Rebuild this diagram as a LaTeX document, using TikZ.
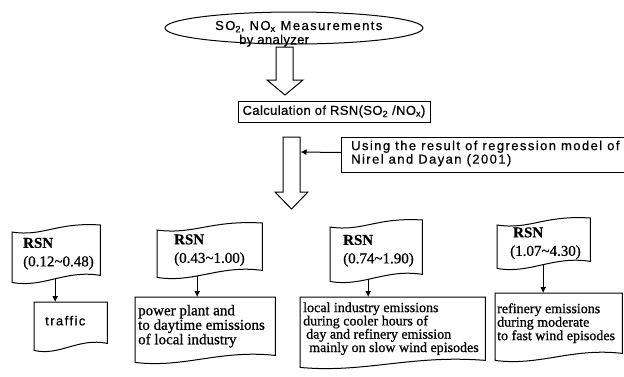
\documentclass[tikz,border=0pt]{standalone}
\usepackage{fontspec}
\setmainfont{Liberation Serif}[RawFeature={embolden=0.8}]
\newfontfamily\sansA{Liberation Sans}[LetterSpace=11,RawFeature={embolden=0.6}]
\newfontfamily\sansB{Liberation Sans}[LetterSpace=3,RawFeature={embolden=0.6}]
\usetikzlibrary{shapes.geometric,arrows.meta,calc}
\tikzset{
  ln/.style={line width=1pt},
  arr/.style={line width=1pt,-{Latex[length=6pt,width=6pt]}},
  boxarea/.style={anchor=north west,inner sep=0pt},
  rsntext/.style={anchor=west,align=left,inner sep=0pt,font=\fontsize{15}{18.5}\selectfont},
  doctext/.style={anchor=west,align=left,inner sep=0pt,font=\fontsize{14}{13.5}\selectfont},
  sanstext/.style={inner sep=0pt,font=\sansA\fontsize{13}{13.5}\selectfont},
}
\newcommand\tapebox[1]{%
  \draw[ln] let \p1=(#1.south west), \p2=(#1.north east), \n1={\x2-\x1} in
  (\x1,\y2-7pt) .. controls (\x1+0.35*\n1,\y2-12pt) and (\x1+0.5*\n1,\y2+3pt) .. (\x2,\y2)
  -- (\x2,\y1+7pt) .. controls (\x1+0.6*\n1,\y1+13pt) and (\x1+0.35*\n1,\y1-6pt) .. (\x1,\y1) -- cycle;}
\newcommand\docbox[1]{%
  \draw[ln] let \p1=(#1.south west), \p2=(#1.north east), \n1={\x2-\x1} in
  (\x1,\y2) -- (\x2,\y2) -- (\x2,\y1) .. controls (\x1+0.6*\n1,\y1+6pt) and (\x1+0.35*\n1,\y1-13pt) .. (\x1,\y1-7pt) -- cycle;}
\begin{document}
\begin{tikzpicture}[x=1pt,y=-1pt]
\useasboundingbox (0,0) rectangle (624,376);
\fill[white] (0,0) rectangle (624,376);
% top ellipse
\node[ellipse,draw,ln,minimum width=258pt,minimum height=32pt,inner sep=0pt] (ell) at (294,28) {};
% block arrows
\draw[ln] (276,47) -- (293,47) -- (293,80) -- (303,80) -- (285,95) -- (267,80) -- (276,80) -- cycle;
\draw[ln] (283,137) -- (300,137) -- (300,192) -- (308,192) -- (291.5,209) -- (275,192) -- (283,192) -- cycle;
\coordinate (sh) at (300.5,152);
% boxes
\node[boxarea,draw,ln,minimum width=192pt,minimum height=21pt] (calc) at (237.5,100.5) {};
\node[boxarea,draw,ln,minimum width=300pt,minimum height=35pt] (use) at (341,137) {};
\draw[arr] ($(use.west)+(0,-2.5)$) -- (sh);
\node[boxarea,minimum width=88pt,minimum height=57pt] (r1) at (12,225) {};
\tapebox{r1}
\node[boxarea,minimum width=73pt,minimum height=41pt] (t1) at (34,302) {};
\docbox{t1}
\coordinate (a1) at ($(r1.south)+(-1,-3.5)$);
\draw[arr] (a1) -- (a1 |- t1.north);
\node[boxarea,minimum width=105pt,minimum height=54pt] (r2) at (157,223) {};
\tapebox{r2}
\node[boxarea,minimum width=140pt,minimum height=58pt] (t2) at (135,297) {};
\docbox{t2}
\coordinate (a2) at ($(r2.south)+(-12.5,-1.5)$);
\draw[arr] (a2) -- (a2 |- t2.north);
\node[boxarea,minimum width=92pt,minimum height=61pt] (r3) at (330,220) {};
\tapebox{r3}
\node[boxarea,minimum width=185pt,minimum height=63pt] (t3) at (300,297) {};
\docbox{t3}
\coordinate (a3) at ($(r3.south)+(-8,-2.3)$);
\draw[arr] (a3) -- (a3 |- t3.north);
\node[boxarea,minimum width=93pt,minimum height=50pt] (r4) at (497,218) {};
\tapebox{r4}
\node[boxarea,minimum width=127pt,minimum height=60pt] (t4) at (495,293) {};
\docbox{t4}
\coordinate (a4) at ($(r4.south)+(-0.5,-3.6)$);
\draw[arr] (a4) -- (a4 |- t4.north);
% texts (drawn last)
\node[sanstext,anchor=base west] (ellA) at (215,30) {SO\textsubscript{2}, NO\textsubscript{x} Measurements};
\node[inner sep=0pt,font=\sansB\fontsize{13}{13.5}\selectfont,anchor=base west] (ellB) at (239,44) {by analyzer};
\node[inner sep=0pt,font=\sansB\fontsize{13}{13.5}\selectfont] (calcT) at (calc.center) {Calculation of RSN(SO\textsubscript{2} /NO\textsubscript{x})};
\node[sanstext,anchor=west,align=left] (useT) at ($(use.west)+(10,-1.5)$) {Using the result of regression model of\\Nirel and Dayan (2001)};
\node[rsntext] (r1t) at ($(r1.west)+(11,0)$) {\textbf{RSN}\\(0.12\textasciitilde0.48)};
\node[sanstext,anchor=west] (t1t) at ($(t1.west)+(11,-2)$) {traffic};
\node[rsntext] (r2t) at ($(r2.west)+(17,0)$) {\textbf{RSN}\\(0.43\textasciitilde1.00)};
\node[doctext,font=\fontsize{15}{14.5}\selectfont] (t2t) at ($(t2.west)+(3,0)$) {power plant and\\to daytime emissions\\of local industry};
\node[rsntext] (r3t) at ($(r3.west)+(13,0)$) {\textbf{RSN}\\(0.74\textasciitilde1.90)};
\node[doctext,font=\fontsize{14}{13.3}\selectfont] (t3t) at ($(t3.west)+(3,0)$) {local industry emissions\\during cooler hours of\\\hspace*{3pt}day and refinery emission\\\hspace*{6pt}mainly on slow wind episodes};
\node[rsntext] (r4t) at ($(r4.west)+(13,0)$) {\hspace*{3pt}\textbf{RSN}\\(1.07\textasciitilde4.30)};
\node[doctext] (t4t) at ($(t4.west)+(2,0)$) {refinery emissions\\during moderate\\to fast wind episodes};
\end{tikzpicture}
\end{document}
